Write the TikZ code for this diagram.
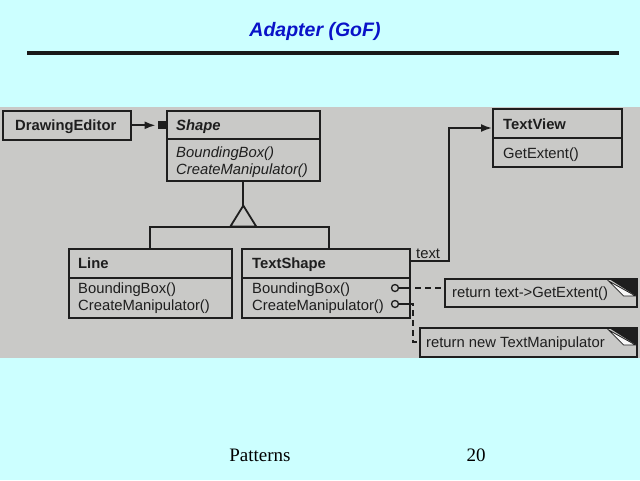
\documentclass[tikz,border=0pt]{standalone}
\usepackage{fontspec}
\setmainfont{Liberation Serif}
\newfontfamily\uml{Liberation Sans}
\usetikzlibrary{arrows.meta,calc}
\definecolor{bgc}{HTML}{CCFFFF}
\definecolor{panel}{HTML}{C9C9C7}
\definecolor{ink}{HTML}{1E1E1E}
\definecolor{titleblue}{HTML}{0A12C8}
\begin{document}
\begin{tikzpicture}[x=1pt,y=-1pt,
  box/.style={draw=ink, line width=1.6pt, inner sep=0pt, anchor=north west},
  lbl/.style={font=\uml\fontsize{14.8}{16}\selectfont, text=ink, anchor=base west, inner sep=0pt},
  cname/.style={lbl, font=\uml\bfseries\fontsize{14.8}{16}\selectfont},
  divl/.style={draw=ink, line width=1.5pt},
  conn/.style={draw=ink, line width=1.8pt},
  dconn/.style={conn, dash pattern=on 6pt off 4pt},
  tipA/.style={-{Latex[length=11pt,width=8pt]}},
  port/.style={circle, draw=ink, line width=1.3pt, fill=panel, inner sep=0pt, minimum size=7pt}
]
\useasboundingbox (0,0) rectangle (640,480);
\fill[bgc] (0,0) rectangle (640,480);
\fill[panel] (0,107) rectangle (640,358);

% title and rule
\node[font=\uml\bfseries\itshape\fontsize{19.5}{23}\selectfont, text=titleblue] (title) at (315,31) {Adapter (GoF)};
\draw[line width=3.2pt, black!90] (27,53) -- (619,53);

% footer
\node[font=\fontsize{19}{22}\selectfont, anchor=base, inner sep=0pt] (foot) at (260,461) {Patterns};
\node[font=\fontsize{19}{22}\selectfont, anchor=base, inner sep=0pt] (pnum) at (476,461) {20};

% DrawingEditor
\node[box, minimum width=128pt, minimum height=29pt] (de) at (2,110) {};
\node[cname] (deN) at (15,130) {DrawingEditor};

% Shape
\node[box, minimum width=153pt, minimum height=70pt] (shape) at (166,110) {};
\draw[divl] (166,139) -- (319,139);
\node[cname, font=\uml\bfseries\itshape\fontsize{14.8}{16}\selectfont] (shN) at (176,130) {Shape};
\node[lbl, font=\uml\itshape\fontsize{14.8}{16}\selectfont] (shM1) at (176,157) {BoundingBox()};
\node[lbl, font=\uml\itshape\fontsize{14.8}{16}\selectfont] (shM2) at (176,174) {CreateManipulator()};

% TextView
\node[box, minimum width=129pt, minimum height=58pt] (tv) at (492,108) {};
\draw[divl] (492,138) -- (621,138);
\node[cname] (tvN) at (503,129) {TextView};
\node[lbl] (tvM) at (503,158) {GetExtent()};

% Line
\node[box, minimum width=163pt, minimum height=69pt] (line) at (68,248) {};
\draw[divl] (68,278) -- (231,278);
\node[cname] (lnN) at (78,268) {Line};
\node[lbl] (lnM1) at (78,293) {BoundingBox()};
\node[lbl] (lnM2) at (78,310) {CreateManipulator()};

% TextShape
\node[box, minimum width=168pt, minimum height=69pt] (ts) at (241,248) {};
\draw[divl] (241,278) -- (409,278);
\node[cname] (tsN) at (252,268) {TextShape};
\node[lbl] (tsM1) at (252,293) {BoundingBox()};
\node[lbl] (tsM2) at (252,310) {CreateManipulator()};

% notes
\node[box, minimum width=192pt, minimum height=28pt] (n1) at (444,278) {};
\node[lbl] (n1t) at (452,297) {return text->GetExtent()};
\node[box, minimum width=217pt, minimum height=29pt] (n2) at (419,327) {};
\node[lbl] (n2t) at (426,347) {return new TextManipulator};
\foreach \n in {n1,n2}{
  \fill[ink] ([xshift=-30pt]\n.north east) -- (\n.north east) -- ([yshift=-19pt]\n.north east) -- cycle;
  \filldraw[fill=white!85!panel, draw=ink, line width=0.8pt]
    ([xshift=-29pt,yshift=-3pt]\n.north east) -- ([xshift=-2pt,yshift=-18pt]\n.north east)
    -- ([xshift=-14pt,yshift=-18pt]\n.north east) -- cycle;
}

% DrawingEditor -> Shape
\node[fill=ink, inner sep=0pt, minimum size=8pt, anchor=east] (agg) at (de.east -| shape.west) {};
\draw[conn, tipA] (de.east) -- ([xshift=-2pt]agg.west);

% inheritance
\draw[conn] (shape.south) -- coordinate[pos=1] (apex) ++(0,24);
\draw[conn, fill=panel] (apex) -- ++(-13,21) coordinate (tb1) -- ++(26,0) -- cycle;
\coordinate (tbase) at ($(tb1)+(13,0)$);
\draw[conn] (line.north) |- (tbase) -| ([xshift=3pt]ts.north);

% TextShape -> TextView
\draw[conn, tipA] ([yshift=-13pt]ts.north east) -- ++(38,0) coordinate (bend) |- ([yshift=-20pt]tv.north west);
\node[lbl] (txt) at (416,258) {text};

% ports and dashed links
\node[port] (p1) at (395,288) {};
\node[port] (p2) at (395,304) {};
\draw[conn] (p1.east) -- ++(6,0) coordinate (p1s);
\draw[dconn] (p1s) -- (p1s -| n1.west);
\draw[conn] (p2.east) -- ++(10,0) coordinate (p2s);
\draw[dconn] (p2s) -| ++(4,10) |- (n2.west);
\end{tikzpicture}
\end{document}
